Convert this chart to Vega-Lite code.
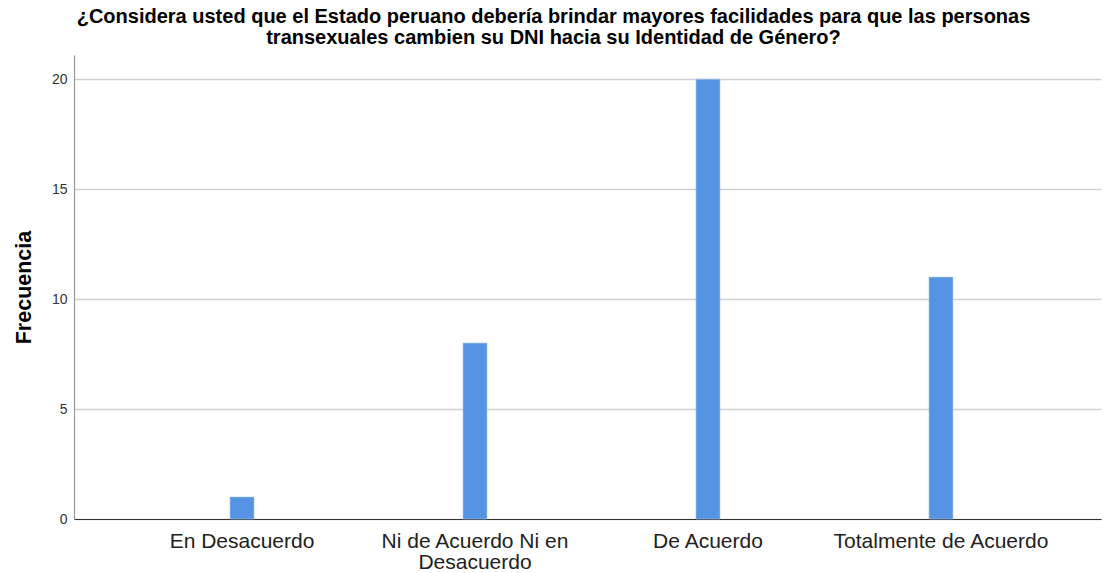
{
  "$schema": "https://vega.github.io/schema/vega-lite/v6.json",
  "autosize": "none",
  "width": 1027,
  "height": 464,
  "padding": {"left": 74, "top": 55, "right": 4, "bottom": 54},
  "background": "white",
  "title": {
    "text": ["¿Considera usted que el Estado peruano debería brindar mayores facilidades para que las personas", "transexuales cambien su DNI hacia su Identidad de Género?"],
    "font": "Liberation Sans",
    "fontSize": 20,
    "fontWeight": "bold",
    "color": "#000000",
    "anchor": "middle",
    "frame": "group",
    "dx": -34,
    "offset": 7,
    "lineHeight": 21.5
  },
  "data": {
    "values": [
      {"categoria": "En Desacuerdo", "frecuencia": 1},
      {"categoria": "Ni de Acuerdo Ni en Desacuerdo", "frecuencia": 8},
      {"categoria": "De Acuerdo", "frecuencia": 20},
      {"categoria": "Totalmente de Acuerdo", "frecuencia": 11}
    ]
  },
  "mark": {"type": "bar", "size": 24, "color": "#5594E3", "stroke": "#A8C7F0", "strokeWidth": 0.6},
  "encoding": {
    "x": {
      "field": "categoria",
      "type": "nominal",
      "sort": null,
      "scale": {"paddingInner": 0, "paddingOuter": 0.204, "align": 0.542},
      "axis": {
        "title": null,
        "labelAngle": 0,
        "ticks": false,
        "grid": false,
        "domainColor": "#333333",
        "domainWidth": 1.2,
        "labelFont": "Liberation Sans",
        "labelFontSize": 21,
        "labelColor": "#222222",
        "labelPadding": 11,
        "labelLineHeight": 21,
        "labelLimit": 400,
        "labelExpr": "datum.label == 'Ni de Acuerdo Ni en Desacuerdo' ? ['Ni de Acuerdo Ni en', 'Desacuerdo'] : datum.label"
      }
    },
    "y": {
      "field": "frecuencia",
      "type": "quantitative",
      "scale": {"domain": [0, 21.1], "nice": false},
      "axis": {
        "values": [0, 5, 10, 15, 20],
        "ticks": false,
        "grid": true,
        "gridColor": "#D0D0D0",
        "gridWidth": 1.5,
        "domainColor": "#999999",
        "domainWidth": 1.2,
        "labelFont": "Liberation Sans",
        "labelFontSize": 14,
        "labelColor": "#333333",
        "labelPadding": 7,
        "title": "Frecuencia",
        "titleFont": "Liberation Sans",
        "titleFontSize": 21.5,
        "titleFontWeight": "bold",
        "titleColor": "#000000",
        "titlePadding": 16
      }
    }
  },
  "config": {"view": {"stroke": null}}
}
